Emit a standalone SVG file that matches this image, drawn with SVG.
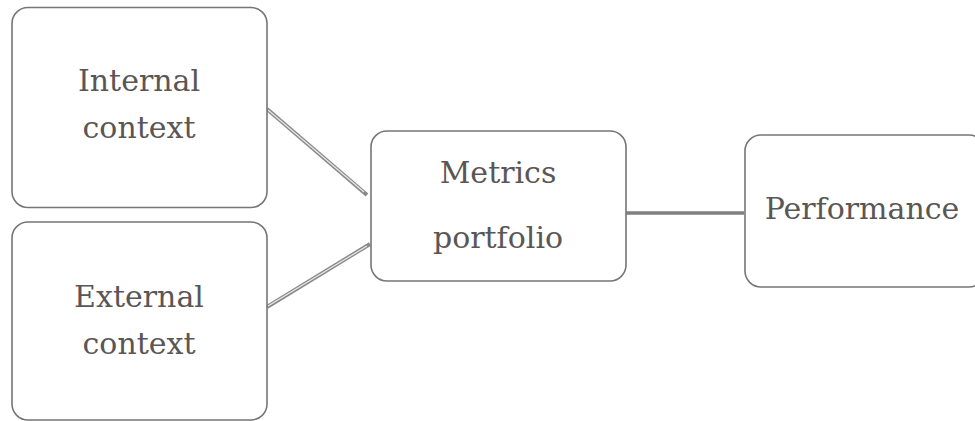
<svg xmlns="http://www.w3.org/2000/svg" width="975" height="421" viewBox="0 0 975 421">
<style>
.box{fill:#fff;stroke:#767676;stroke-width:1.6}
.t{font-family:"DejaVu Serif","Liberation Serif",serif;font-size:30px;fill:#5a5656;text-anchor:middle}
.outer{stroke:#8a8a8a;stroke-width:4;fill:none}
.inner{stroke:#e8e8e8;stroke-width:1.2;fill:none}
.solid{stroke:#7f7f7f;stroke-width:3.5;fill:none}
</style>
<rect width="975" height="421" fill="#fff"/>
<g id="connectors">
<line class="outer" x1="267" y1="109" x2="367" y2="195"/>
<line class="inner" x1="268" y1="110" x2="364" y2="192"/>
<line class="outer" x1="267" y1="307" x2="370" y2="244"/>
<line class="inner" x1="268" y1="306" x2="367" y2="246"/>
<line class="solid" x1="626" y1="213" x2="744" y2="213"/>
</g>
<g id="internal">
<rect class="box" x="12" y="7.5" width="255" height="200" rx="16"/>
<text class="t" x="139" y="91">Internal</text>
<text class="t" x="139" y="138">context</text>
</g>
<g id="external">
<rect class="box" x="12" y="222" width="255" height="198" rx="16"/>
<text class="t" x="139" y="307">External</text>
<text class="t" x="139" y="354">context</text>
</g>
<g id="metrics">
<rect class="box" x="371" y="131" width="255" height="150" rx="16"/>
<text class="t" x="498" y="183">Metrics</text>
<text class="t" x="498" y="248">portfolio</text>
</g>
<g id="performance">
<rect class="box" x="745" y="135" width="240" height="152" rx="16"/>
<text class="t" x="862" y="219">Performance</text>
</g>
</svg>
